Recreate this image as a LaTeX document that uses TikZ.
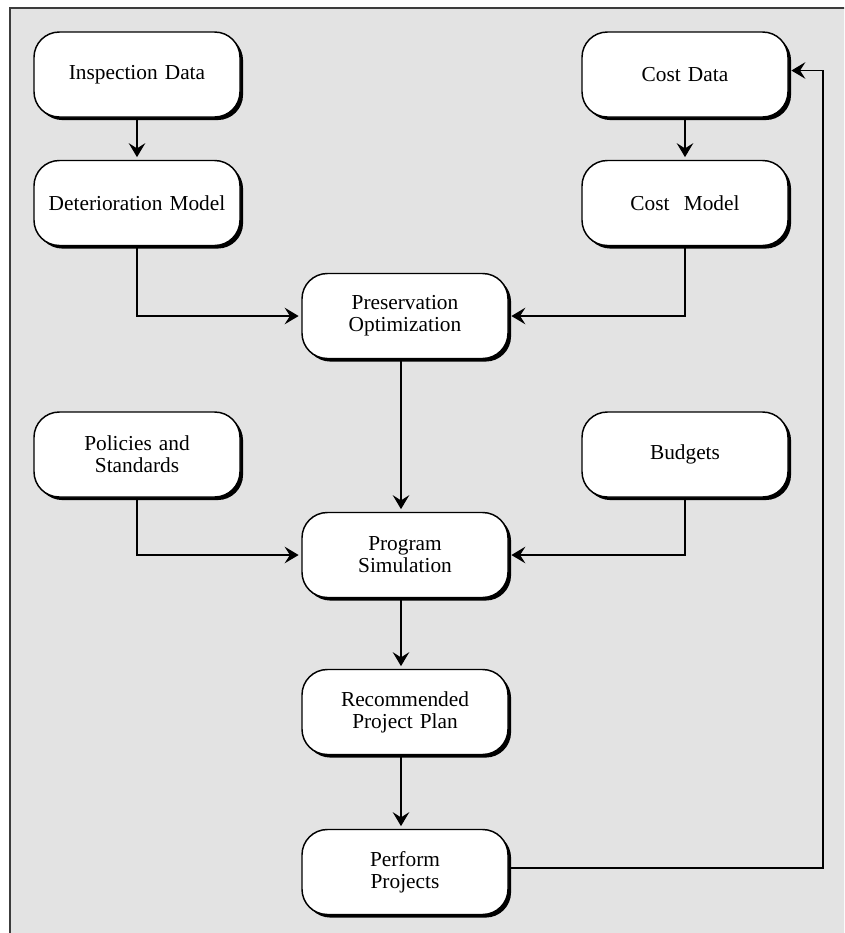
\documentclass[tikz,border=0pt]{standalone}
\usepackage{fontspec}
\setmainfont{Liberation Serif}
\usetikzlibrary{arrows.meta,shadows}
\definecolor{bggray}{RGB}{227,227,227}
\definecolor{framegray}{RGB}{60,60,60}
\begin{document}
\begin{tikzpicture}[x=0.75pt,y=-0.75pt,
  box/.style={draw=black, line width=1.1pt, fill=white, rounded corners=19pt,
    minimum width=154.5pt, minimum height=63.75pt, align=center, inner sep=0pt,
    text width=150pt, font=\fontsize{16}{16.5}\selectfont,
    drop shadow={shadow xshift=2.3pt, shadow yshift=-2.3pt, fill=black, opacity=1}},
  conn/.style={line width=0.9pt, -{Stealth[length=10.5pt,width=12.5pt,inset=4pt]}, shorten >=2pt}
]
\useasboundingbox (0,0) rectangle (844,933);
\clip (0,0) rectangle (844,933);
\fill[white] (0,0) rectangle (844,933);
\draw[fill=bggray, draw=framegray, line width=1.1pt] (10,8) rectangle (870,950);

\node[box] (insp)  at (137,74.5) {Inspection Data};
\node[box] (det)   at (137,203)  {Deterioration Model};
\node[box] (cdata) at (685,74.5) {Cost Data};
\node[box] (cmod)  at (685,203)  {Cost\ \ Model};
\node[box] (pres)  at (405,316)  {Preservation\\Optimization};
\node[box] (pol)   at (137,454.5) {Policies and\\Standards};
\node[box] (bud)   at (685,454.5) {Budgets};
\node[box] (prog)  at (405,555)  {Program\\Simulation};
\node[box] (rec)   at (405,712)  {Recommended\\Project Plan};
\node[box] (perf)  at (405,872)  {Perform\\Projects};

\coordinate (ret) at (823,0);

\draw[conn] (insp) -- (det);
\draw[conn] (cdata) -- (cmod);
\draw[conn] (det.south) |- (pres.west);
\draw[conn] (cmod.south) |- (pres.east);
\draw[conn] ([xshift=-3pt]pres.south) -- ([xshift=-3pt]prog.north);
\draw[conn] (pol.south) |- (prog.west);
\draw[conn] (bud.south) |- (prog.east);
\draw[conn] ([xshift=-3pt]prog.south) -- ([xshift=-3pt]rec.north);
\draw[conn] ([xshift=-3pt]rec.south) -- ([xshift=-3pt]perf.north);
\draw[conn] ([yshift=3pt]perf.east) -- ([yshift=3pt]perf.east -| ret) -- ([yshift=3pt]cdata.east -| ret) -- ([yshift=3pt]cdata.east);
\end{tikzpicture}
\end{document}
